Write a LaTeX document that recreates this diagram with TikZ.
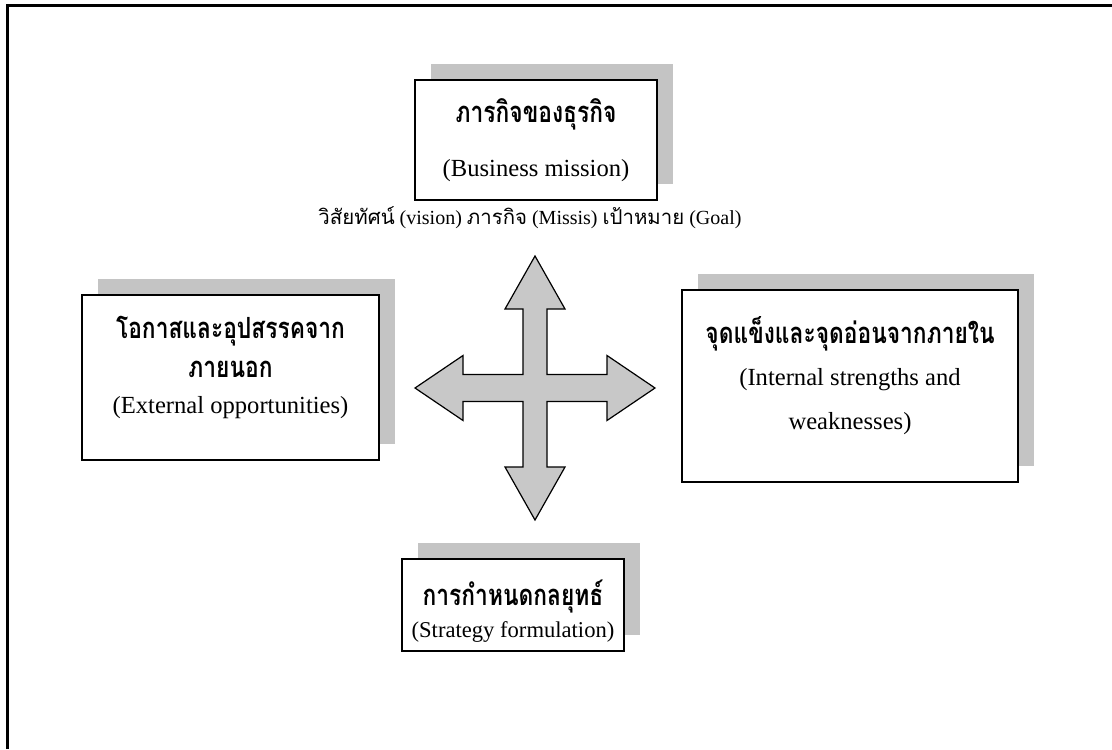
\documentclass[tikz,border=0pt]{standalone}
\usepackage{fontspec}
\setmainfont{Liberation Serif}
\newfontfamily\thaifont[Script=Thai]{Loma}
\newfontfamily\thaititle[Script=Thai, FakeStretch=0.78]{Loma}
\usetikzlibrary{shadows}
\definecolor{sombra}{HTML}{C4C4C4}
\definecolor{flecha}{HTML}{C8C8C8}
\newcommand{\tituloth}[1]{{\thaititle\bfseries\fontsize{14.6}{15}\selectfont #1}}
\newcommand{\textoth}[1]{{\thaifont\fontsize{10.2}{12}\selectfont #1}}

\begin{document}
\begin{tikzpicture}[x=0.5pt, y=-0.5pt,
  caja/.style={draw, line width=1pt, fill=white, align=center, inner sep=0pt,
    font=\fontsize{12.3}{15}\selectfont,
    general shadow={fill=sombra, shadow xshift=8pt, shadow yshift=8pt}},
  cruz/.style={draw, line width=0.6pt, fill=flecha, line join=miter}
]
\useasboundingbox (0,0) rectangle (1112,749);

% Marco
\draw[line width=1.5pt] (7,749) -- (7,6) -- (1112,6);

% Cajas
\node[caja, minimum width=121pt, minimum height=60pt] (mision) at (536,140)
  {\tituloth{ภารกิจของธุรกิจ}\\[12pt](Business mission)};
\node[caja, minimum width=148.5pt, minimum height=82.5pt] (externo) at (230.5,377.5)
  {\tituloth{โอกาสและอุปสรรคจาก}\\[4.5pt]\tituloth{ภายนอก}\\[3pt](External opportunities)\\[-2pt]\mbox{}};
\node[caja, minimum width=168pt, minimum height=96pt] (interno) at (850,386)
  {\tituloth{จุดแข็งและจุดอ่อนจากภายใน}\\[6pt](Internal strengths and\\[7pt]weaknesses)\\[-2pt]\mbox{}};
\node[caja, minimum width=111pt, minimum height=46pt] (estrategia) at (513,605) {};
\node[align=center, font=\fontsize{11.3}{15}\selectfont] (estrategiaTxt) at (513,611)
  {\tituloth{การกำหนดกลยุทธ์}\\[1pt](Strategy formulation)};

% Texto bajo la mision
\node[font=\fontsize{10}{12}\selectfont] (metas) at (530,218)
  {\textoth{วิสัยทัศน์} (vision) \textoth{ภารกิจ} (Missis) \textoth{เป้าหมาย} (Goal)};

% Flecha de cuatro puntas
\coordinate (centro) at (535,388);
\draw[cruz, shift={(centro)}] (0,-132) -- (30,-79) -- (12,-79) -- (12,-13.5)
  -- (72,-13.5) -- (72,-32.5) -- (120,0) -- (72,32.5) -- (72,13.5) -- (12,13.5)
  -- (12,79) -- (30,79) -- (0,132) -- (-30,79) -- (-12,79) -- (-12,13.5)
  -- (-72,13.5) -- (-72,32.5) -- (-120,0) -- (-72,-32.5) -- (-72,-13.5)
  -- (-12,-13.5) -- (-12,-79) -- (-30,-79) -- cycle;

\end{tikzpicture}
\end{document}
